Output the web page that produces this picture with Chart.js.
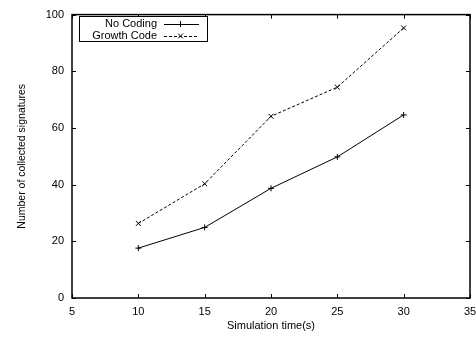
<!DOCTYPE html>
<html>
<head>
<meta charset="utf-8">
<script src="https://cdn.jsdelivr.net/npm/chart.js@4.4.1/dist/chart.umd.min.js"></script>
<style>
  body { margin: 0; background: #fff; }
  canvas { display: block; }
</style>
</head>
<body>
<canvas id="sigChart" width="476" height="337"></canvas>
<script>
// Simulation times (s) and collected signatures per scheme
const simTimes = [10, 15, 20, 25, 30];
const noCoding = [17.6, 24.9, 38.7, 49.8, 64.6];
const growthCode = [26.3, 40.3, 64.1, 74.4, 95.3];
const seriesNames = ['No Coding', 'Growth Code'];

const xTicks = [5, 10, 15, 20, 25, 30, 35];
const yTicks = [0, 20, 40, 60, 80, 100];

const FONT = 'Liberation Sans, Arial, Helvetica, sans-serif';

function toPoints(values) {
    return simTimes.map((t, i) => ({ x: t, y: values[i] }));
}

// Gnuplot style frame: full box with inward ticks, mirrored on top and right
const framePlugin = {
    id: 'frame',
    beforeDatasetsDraw(chart) {
        const { ctx, chartArea: a, scales } = chart;
        const len = 4;
        ctx.save();
        ctx.strokeStyle = '#000';
        ctx.lineWidth = 1;
        ctx.beginPath();
        scales.x.ticks.forEach(t => {
            const px = Math.round(scales.x.getPixelForValue(t.value)) + 0.5;
            ctx.moveTo(px, a.bottom); ctx.lineTo(px, a.bottom - len);
            ctx.moveTo(px, a.top); ctx.lineTo(px, a.top + len);
        });
        scales.y.ticks.forEach(t => {
            const py = Math.round(scales.y.getPixelForValue(t.value)) + 0.5;
            ctx.moveTo(a.left, py); ctx.lineTo(a.left + len, py);
            ctx.moveTo(a.right, py); ctx.lineTo(a.right - len, py);
        });
        ctx.stroke();
        ctx.lineWidth = 1.5;
        ctx.strokeRect(a.left, a.top, a.right - a.left, a.bottom - a.top);
        ctx.restore();
    }
};

// Legend box in the top-left corner: label first, then the line sample
const keyPlugin = {
    id: 'key',
    afterDraw(chart) {
        const { ctx } = chart;
        const box = { x: 79.5, y: 16.5, w: 128, h: 25 };
        ctx.save();
        ctx.fillStyle = '#fff';
        ctx.fillRect(box.x, box.y, box.w, box.h);
        ctx.strokeStyle = '#000';
        ctx.lineWidth = 1;
        ctx.strokeRect(box.x, box.y, box.w, box.h);
        ctx.font = '11px ' + FONT;
        ctx.textAlign = 'right';
        ctx.textBaseline = 'middle';
        chart.data.datasets.forEach((ds, i) => {
            const y = 24 + i * 12;
            ctx.fillStyle = '#000';
            ctx.fillText(ds.label, 157, y);
            ctx.beginPath();
            ctx.setLineDash(ds.borderDash || []);
            ctx.lineWidth = 1;
            ctx.moveTo(164, y + 0.5);
            ctx.lineTo(199, y + 0.5);
            ctx.stroke();
            ctx.setLineDash([]);
            const cx = 180.5, r = 3;
            ctx.beginPath();
            if (ds.pointStyle === 'cross') {
                ctx.moveTo(cx - r, y + 0.5); ctx.lineTo(cx + r, y + 0.5);
                ctx.moveTo(cx, y - r); ctx.lineTo(cx, y + r);
            } else {
                ctx.moveTo(cx - r * 0.8, y - r * 0.8); ctx.lineTo(cx + r * 0.8, y + r * 0.8);
                ctx.moveTo(cx - r * 0.8, y + r * 0.8); ctx.lineTo(cx + r * 0.8, y - r * 0.8);
            }
            ctx.stroke();
        });
        ctx.restore();
    }
};

new Chart(document.getElementById('sigChart'), {
    type: 'line',
    data: {
        datasets: [
            {
                label: seriesNames[0],
                data: toPoints(noCoding),
                borderColor: '#000',
                borderWidth: 1,
                pointStyle: 'cross',
                pointRadius: 3,
                pointBorderColor: '#000',
                pointBorderWidth: 1,
                fill: false
            },
            {
                label: seriesNames[1],
                data: toPoints(growthCode),
                borderColor: '#000',
                borderWidth: 1,
                borderDash: [3, 2],
                pointStyle: 'crossRot',
                pointRadius: 3.5,
                pointBorderColor: '#000',
                pointBorderWidth: 1,
                fill: false
            }
        ]
    },
    options: {
        responsive: false,
        animation: false,
        layout: { padding: { top: 12, right: 6, left: 0, bottom: 0 } },
        plugins: {
            legend: { display: false },
            tooltip: { enabled: false }
        },
        scales: {
            x: {
                type: 'linear',
                min: 5,
                max: 35,
                afterBuildTicks: s => { s.ticks = xTicks.map(v => ({ value: v })); },
                afterFit: s => {
                    s.height = 39;
                    // let the last label run past the canvas edge
                    s.paddingLeft = 0;
                    s.paddingRight = 0;
                },
                grid: { display: false, drawTicks: false },
                border: { display: false },
                ticks: { color: '#000', padding: 7, maxRotation: 0, font: { family: FONT, size: 11 } },
                title: {
                    display: true,
                    text: 'Simulation time(s)',
                    color: '#000',
                    padding: { top: 0, bottom: 4 },
                    font: { family: FONT, size: 11 }
                }
            },
            y: {
                min: 0,
                max: 100,
                afterBuildTicks: s => { s.ticks = yTicks.map(v => ({ value: v })); },
                afterFit: s => { s.width = 72; },
                grid: { display: false, drawTicks: false },
                border: { display: false },
                ticks: { color: '#000', padding: 8, font: { family: FONT, size: 11 } },
                title: {
                    display: true,
                    text: 'Number of collected signatures',
                    color: '#000',
                    padding: { top: 16, bottom: 0 },
                    font: { family: FONT, size: 10.5 }
                }
            }
        }
    },
    plugins: [framePlugin, keyPlugin]
});
</script>
</body>
</html>
